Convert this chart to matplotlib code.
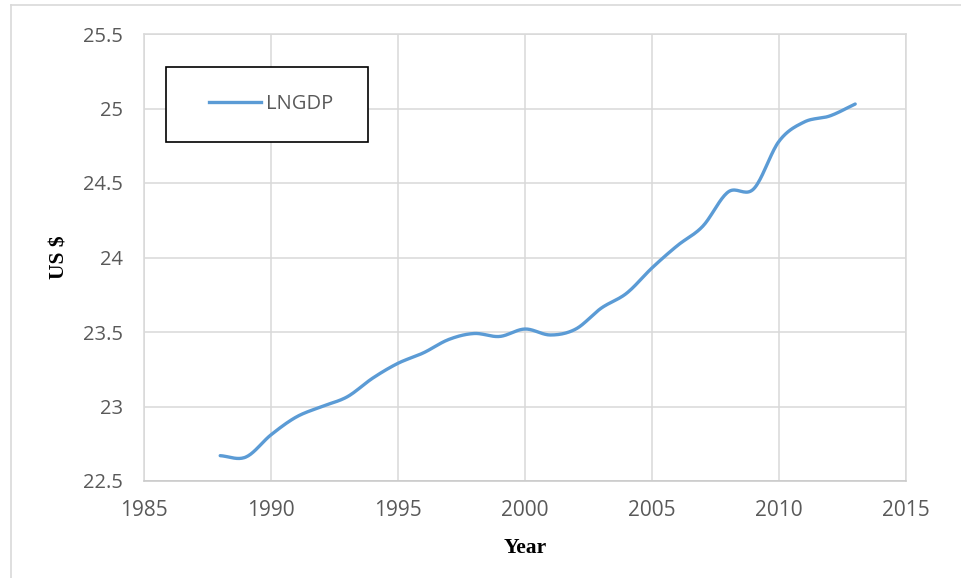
import numpy as np
import matplotlib
matplotlib.use("Agg")
import matplotlib.pyplot as plt
from matplotlib.patches import Rectangle
from matplotlib.lines import Line2D

# LNGDP series (log of GDP, US $)
years = np.arange(1988, 2014)
lngdp = [22.67, 22.66, 22.81, 22.93, 23.00, 23.065, 23.19, 23.29, 23.36, 23.45,
         23.49, 23.47, 23.52, 23.48, 23.52, 23.66, 23.76, 23.93, 24.08, 24.21,
         24.44, 24.46, 24.78, 24.91, 24.95, 25.03]

x_ticks = [1985, 1990, 1995, 2000, 2005, 2010, 2015]
y_ticks = [22.5, 23, 23.5, 24, 24.5, 25, 25.5]

line_color = "#5B9BD5"
grid_color = "#D9D9D9"
text_color = "#595959"


def smooth_curve(x, y, steps=20):
    # Catmull-Rom spline through the points, like a smoothed line chart
    x = np.asarray(x, float)
    y = np.asarray(y, float)
    px = np.concatenate([[2 * x[0] - x[1]], x, [2 * x[-1] - x[-2]]])
    py = np.concatenate([[2 * y[0] - y[1]], y, [2 * y[-1] - y[-2]]])
    t = np.linspace(0, 1, steps, endpoint=False)
    xs, ys = [], []
    for i in range(1, len(px) - 2):
        for p, out in ((px, xs), (py, ys)):
            p0, p1, p2, p3 = p[i - 1], p[i], p[i + 1], p[i + 2]
            out.append(0.5 * ((2 * p1) + (-p0 + p2) * t
                              + (2 * p0 - 5 * p1 + 4 * p2 - p3) * t ** 2
                              + (-p0 + 3 * p1 - 3 * p2 + p3) * t ** 3))
    xs.append([x[-1]])
    ys.append([y[-1]])
    return np.concatenate(xs), np.concatenate(ys)


fig = plt.figure(figsize=(9.61, 5.78), dpi=100)
ax = fig.add_axes([144 / 961, 1 - 481 / 578, 762 / 961, 447 / 578])

sx, sy = smooth_curve(years, lngdp)
ax.plot(sx, sy, color=line_color, linewidth=2.4, solid_capstyle="round")

ax.set_xlim(1985, 2015)
ax.set_ylim(22.5, 25.5)
ax.set_xticks(x_ticks)
ax.set_yticks(y_ticks)
ax.set_yticklabels([f"{v:g}" for v in y_ticks])
ax.grid(True, color=grid_color, linewidth=1.1)
ax.set_axisbelow(True)
for side, sp in ax.spines.items():
    sp.set_color(grid_color)
    sp.set_linewidth(1.1)
ax.spines["bottom"].set_color("#C8C8C8")
ax.tick_params(length=0, labelsize=14.5, labelcolor=text_color)
ax.tick_params(axis="y", pad=15)
ax.tick_params(axis="x", pad=14, labelsize=15)
for lbl in ax.get_xticklabels() + ax.get_yticklabels():
    lbl.set_family("Open Sans")

ax.set_xlabel("Year", fontfamily="Liberation Serif", fontweight="bold",
              fontsize=15.5, labelpad=12)
ax.set_ylabel("US $", fontfamily="Liberation Serif", fontweight="bold",
              fontsize=15.5, labelpad=10)

# legend box with black frame
ax.add_patch(Rectangle((22 / 762, 339 / 447), 202 / 762, 75 / 447,
                       transform=ax.transAxes, fill=True, facecolor="white",
                       edgecolor="black", linewidth=1.2, zorder=4))
handle = Line2D([], [], color=line_color, linewidth=2.4)
ax.legend([handle], ["LNGDP"], loc="center", frameon=False,
          bbox_to_anchor=(127 / 762, 377 / 447), handlelength=2.6,
          handletextpad=0.25, prop={"family": "Open Sans", "size": 14.5},
          labelcolor=text_color).set_zorder(5)

# outer chart frame (top and left edges)
fig.add_artist(Line2D([11 / 961, 1], [1 - 5 / 578, 1 - 5 / 578],
                      transform=fig.transFigure, color="#D9D9D9", linewidth=1.2))
fig.add_artist(Line2D([11 / 961, 11 / 961], [0, 1 - 5 / 578],
                      transform=fig.transFigure, color="#D9D9D9", linewidth=1.2))

fig.savefig("out.png", dpi=100)
